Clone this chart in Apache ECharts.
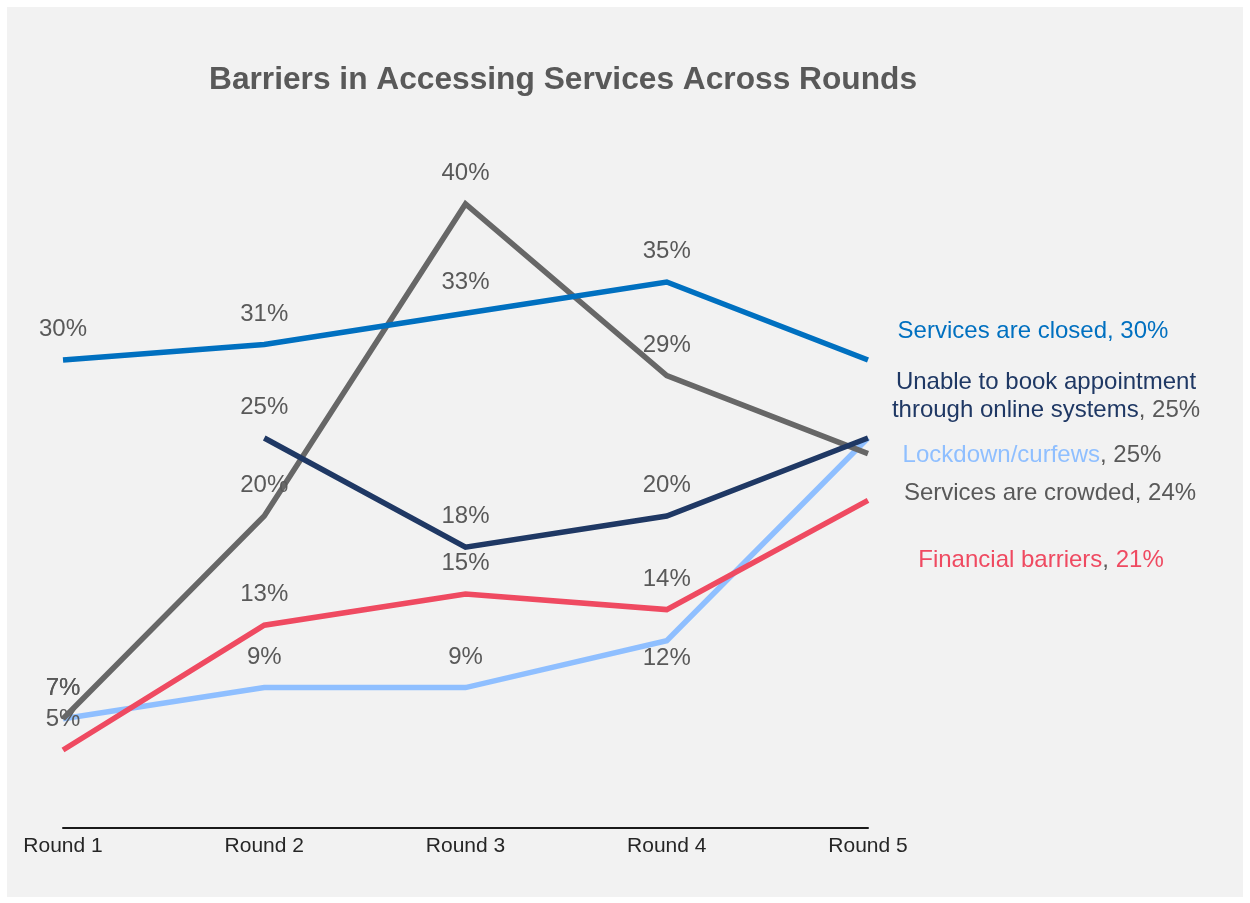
<!DOCTYPE html>
<html>
<head>
<meta charset="utf-8">
<script src="https://cdn.jsdelivr.net/npm/echarts@6/dist/echarts.min.js"></script>
<style>
  html, body { margin: 0; padding: 0; background: #ffffff; }
  #wrap { position: relative; width: 1250px; height: 903px; }
  #panel { position: absolute; left: 7px; top: 7px; width: 1236px; height: 890px; background: #f2f2f2; }
  #chart { position: absolute; left: 0; top: 0; width: 1250px; height: 903px; }
</style>
</head>
<body>
<div id="wrap">
  <div id="panel"></div>
  <div id="chart"></div>
</div>
<script>
// Rounds and the share (%) reporting each barrier
const rounds = ['Round 1', 'Round 2', 'Round 3', 'Round 4', 'Round 5'];
const servicesClosed = [30, 31, 33, 35, 30];
const unableToBook = [null, 25, 18, 20, 25];
const lockdownCurfews = [7, 9, 9, 12, 25];
const servicesCrowded = [7, 20, 40, 29, 24];
const financialBarriers = [5, 13, 15, 14, 21];

const seriesNames = [
  'Services are closed',
  'Unable to book appointment\nthrough online systems',
  'Lockdown/curfews',
  'Services are crowded',
  'Financial barriers'
];

const FONT = '"Liberation Sans", Arial, sans-serif';
const LABEL_GREY = '#595959';

// name colour, colour of ", " and colour of the value in the end-of-line label
function endLabel(name, value, nameColor, sepColor, valColor, dx, dy) {
  const lines = name.split('\n');
  const last = lines.pop();
  let txt = lines.map(l => '{n|' + l + '}').join('\n');
  if (txt) txt += '\n';
  txt += '{n|' + last + '}{s|, }{v|' + value + '%}';
  return {
    show: true,
    position: 'inside',
    align: 'center',
    verticalAlign: 'middle',
    offset: [dx, dy],
    formatter: txt,
    lineHeight: 28,
    rich: {
      n: { color: nameColor, fontSize: 24, fontFamily: FONT, lineHeight: 28 },
      s: { color: sepColor, fontSize: 24, fontFamily: FONT, lineHeight: 28 },
      v: { color: valColor, fontSize: 24, fontFamily: FONT, lineHeight: 28 }
    }
  };
}

function makeSeries(name, values, color, endCfg, belowIdx, z) {
  const lastIdx = values.length - 1;
  const data = values.map((v, i) => {
    if (v === null) return null;
    if (i === lastIdx) {
      return { value: v, label: endLabel(name, v, endCfg.nameColor, endCfg.sepColor, endCfg.valColor, endCfg.dx, endCfg.dy) };
    }
    if (belowIdx.indexOf(i) >= 0) {
      return { value: v, label: { position: 'bottom', distance: 5 } };
    }
    return v;
  });
  return {
    name: name,
    type: 'line',
    data: data,
    z: z,
    symbol: 'circle',
    symbolSize: 1,
    showSymbol: true,
    itemStyle: { color: 'rgba(0,0,0,0)' },
    lineStyle: { color: color, width: 5.5, cap: 'butt', join: 'miter' },
    emphasis: { disabled: true },
    label: {
      show: true,
      position: 'top',
      distance: 18,
      color: LABEL_GREY,
      fontSize: 24,
      fontFamily: FONT,
      formatter: p => p.value + '%'
    },
    animation: false
  };
}

const chart = echarts.init(document.getElementById('chart'), null, { renderer: 'canvas' });

chart.setOption({
  backgroundColor: 'transparent',
  animation: false,
  title: {
    text: 'Barriers in Accessing Services Across Rounds',
    left: 558,
    top: 59,
    textAlign: 'center',
    textStyle: {
      color: '#595959',
      fontSize: 31.7,
      fontWeight: 'bold',
      fontFamily: '"Liberation Sans", Arial, sans-serif'
    }
  },
  grid: { left: 63, right: 382, top: 48, bottom: 75, containLabel: false },
  xAxis: {
    type: 'category',
    data: rounds,
    boundaryGap: false,
    axisLine: { show: true, lineStyle: { color: '#1a1a1a', width: 2 } },
    axisTick: { show: false },
    splitLine: { show: false },
    axisLabel: { color: '#262626', fontSize: 21, fontFamily: FONT, margin: 8 }
  },
  yAxis: { type: 'value', min: 0, max: 50, show: false },
  series: [
    makeSeries(seriesNames[2], lockdownCurfews, '#8fbfff',
      { nameColor: '#8fbfff', sepColor: LABEL_GREY, valColor: LABEL_GREY, dx: 164, dy: 17 }, [3], 2),
    makeSeries(seriesNames[4], financialBarriers, '#ef4a61',
      { nameColor: '#ef4a61', sepColor: LABEL_GREY, valColor: '#ef4a61', dx: 173, dy: 60 }, [], 3),
    makeSeries(seriesNames[3], servicesCrowded, '#676767',
      { nameColor: LABEL_GREY, sepColor: LABEL_GREY, valColor: LABEL_GREY, dx: 182, dy: 40 }, [], 4),
    makeSeries(seriesNames[1], unableToBook, '#1f3864',
      { nameColor: '#1f3864', sepColor: LABEL_GREY, valColor: LABEL_GREY, dx: 178, dy: -42 }, [], 5),
    makeSeries(seriesNames[0], servicesClosed, '#0070c0',
      { nameColor: '#0070c0', sepColor: '#0070c0', valColor: '#0070c0', dx: 165, dy: -29 }, [], 6)
  ]
});
</script>
</body>
</html>
